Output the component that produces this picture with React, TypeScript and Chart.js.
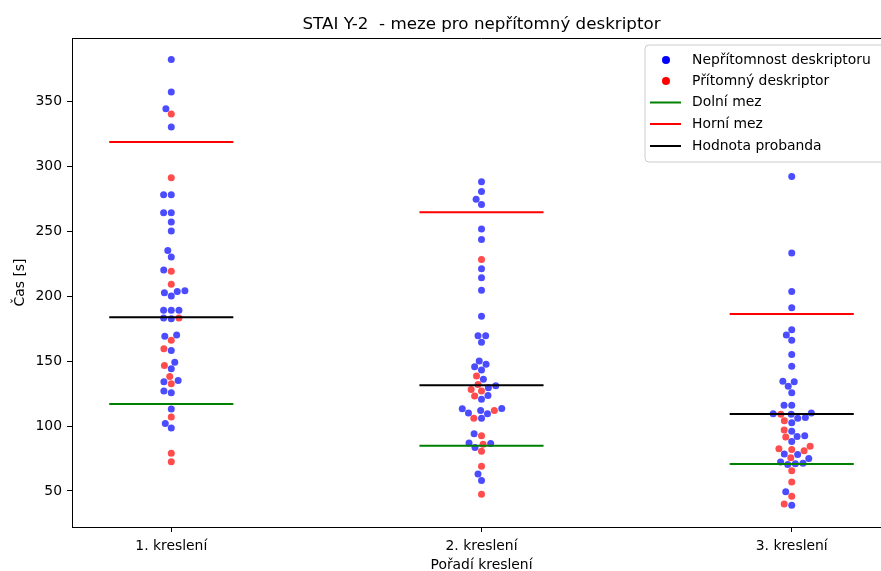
import React, { useEffect, useRef } from 'react';
import { Chart, registerables } from 'chart.js';

Chart.register(...registerables);

const categories = ['1. kreslení', '2. kreslení', '3. kreslení'];

// Nepřítomnost deskriptoru (blue)
const absent1 = [382, 357, 344, 330, 278, 278, 264, 264, 257, 250, 235, 230, 220, 204, 203.5, 202.5, 200, 189, 189, 189, 183, 182.5, 170, 169, 158, 149, 144, 135, 134, 127, 125.5, 113, 102, 98.5];
const absent2 = [288, 280.5, 274.5, 270.5, 251.5, 243.5, 221, 214, 204.5, 184.5, 169.5, 169.5, 164.5, 150, 147.5, 145.5, 143, 136, 131, 129.5, 123.5, 120.5, 113.5, 113.3, 112, 110, 109.5, 106, 94, 87, 86.5, 83.5, 63, 58];
const absent3 = [292, 233, 203.5, 191, 174, 170, 166, 155, 146, 134.5, 134, 130.5, 125.5, 116, 116, 110, 109.5, 109, 106.5, 106, 102.5, 96, 92.5, 92, 88, 78.5, 78, 75, 72.3, 71.3, 71, 70.3, 49.5, 39];

// Přítomný deskriptor (red)
const present1 = [340, 291, 219, 209, 183, 166, 159.5, 146.5, 138, 132.5, 107, 79, 72.5];
const present2 = [228, 138.5, 132, 128, 127, 123, 112, 106, 92.5, 86, 80.5, 69, 47.5];
const present3 = [109, 104, 97, 91.5, 84.5, 82.5, 82, 81, 75.5, 65.5, 57, 46, 40];

const absentValues = [absent1, absent2, absent3];
const presentValues = [present1, present2, present3];

const lowerBound = [116.9, 84.8, 70.8];
const upperBound = [318.5, 264.5, 186.1];
const subjectValue = [183.7, 131.4, 109.3];

const yTicks = [50, 100, 150, 200, 250, 300, 350];

const FONT = "'DejaVu Sans', sans-serif";
const BLUE = 'rgba(0,0,255,0.7)';
const RED = 'rgba(255,0,0,0.7)';

function segments(vals: number[]) {
  const out: { x: number; y: number | null }[] = [];
  vals.forEach((v, i) => {
    out.push({ x: i - 0.2, y: v }, { x: i + 0.2, y: v }, { x: i + 0.5, y: null });
  });
  return out;
}

function beeswarm(pys: number[], r: number): number[] {
  const n = pys.length;
  const order = pys.map((_, i) => i).sort((a, b) => pys[b] - pys[a] || a - b);
  const placed: { x: number; y: number }[] = [];
  const out = new Array(n).fill(0);
  const d2 = 4 * r * r;
  for (const idx of order) {
    const y = pys[idx];
    const neigh: { x: number; y: number }[] = [];
    for (let k = placed.length - 1; k >= 0; k--) {
      if (Math.abs(placed[k].y - y) < 2 * r) neigh.unshift(placed[k]);
      else break;
    }
    let chosen = 0;
    if (neigh.length) {
      const cands: number[] = [0];
      let leftFirst = true;
      for (const nb of neigh) {
        const dy = y - nb.y;
        const dx = Math.sqrt(Math.max(d2 - dy * dy, 0)) * 1.05;
        const cl = nb.x - dx;
        const cr = nb.x + dx;
        if (leftFirst) cands.push(cl, cr);
        else cands.push(cr, cl);
        leftFirst = !leftFirst;
      }
      const sorted = cands.map((c, i) => ({ c, i })).sort((a, b) => Math.abs(a.c) - Math.abs(b.c) || a.i - b.i);
      for (const { c } of sorted) {
        let ok = true;
        for (const nb of neigh) {
          const ddx = nb.x - c;
          const ddy = nb.y - y;
          if (ddx * ddx + ddy * ddy < d2 - 1e-6) { ok = false; break; }
        }
        if (ok) { chosen = c; break; }
      }
    }
    placed.push({ x: chosen, y });
    out[idx] = chosen;
  }
  return out;
}

const decorPlugin = {
  id: 'decor',
  afterDraw(chart: any) {
    const { ctx, chartArea } = chart;
    const { left, right, top, bottom } = chartArea;
    ctx.save();
    // frame (top and right spines)
    ctx.strokeStyle = '#000';
    ctx.lineWidth = 1;
    ctx.beginPath();
    ctx.moveTo(left, top + 0.5);
    ctx.lineTo(right, top + 0.5);
    ctx.moveTo(right - 0.5, top);
    ctx.lineTo(right - 0.5, bottom);
    ctx.stroke();

    // title
    ctx.fillStyle = '#000';
    ctx.font = `16.7px ${FONT}`;
    ctx.textAlign = 'center';
    ctx.textBaseline = 'alphabetic';
    ctx.fillText('STAI Y-2  - meze pro nepřítomný deskriptor', (left + right) / 2, 29);

    // axis labels
    ctx.font = `13.9px ${FONT}`;
    ctx.textBaseline = 'middle';
    ctx.fillText('Pořadí kreslení', (left + right) / 2, 565);
    ctx.save();
    ctx.translate(20, (top + bottom) / 2);
    ctx.rotate(-Math.PI / 2);
    ctx.fillText('Čas [s]', 0, 0);
    ctx.restore();

    // legend
    const lx = 645, ly = 45, lw = 250, lh = 117, rad = 4;
    ctx.beginPath();
    ctx.moveTo(lx + rad, ly);
    ctx.lineTo(lx + lw - rad, ly);
    ctx.quadraticCurveTo(lx + lw, ly, lx + lw, ly + rad);
    ctx.lineTo(lx + lw, ly + lh - rad);
    ctx.quadraticCurveTo(lx + lw, ly + lh, lx + lw - rad, ly + lh);
    ctx.lineTo(lx + rad, ly + lh);
    ctx.quadraticCurveTo(lx, ly + lh, lx, ly + lh - rad);
    ctx.lineTo(lx, ly + rad);
    ctx.quadraticCurveTo(lx, ly, lx + rad, ly);
    ctx.closePath();
    ctx.fillStyle = 'rgba(255,255,255,0.8)';
    ctx.fill();
    ctx.strokeStyle = '#cccccc';
    ctx.lineWidth = 1;
    ctx.stroke();

    const items = [
      { label: 'Nepřítomnost deskriptoru', kind: 'dot', color: '#0000ff' },
      { label: 'Přítomný deskriptor', kind: 'dot', color: '#ff0000' },
      { label: 'Dolní mez', kind: 'line', color: 'green' },
      { label: 'Horní mez', kind: 'line', color: 'red' },
      { label: 'Hodnota probanda', kind: 'line', color: 'black' },
    ];
    const rowsY = [60, 81, 102.5, 124, 146];
    items.forEach((it, i) => {
      const y = rowsY[i];
      if (it.kind === 'dot') {
        ctx.beginPath();
        ctx.arc(666, y, 4, 0, Math.PI * 2);
        ctx.fillStyle = it.color;
        ctx.fill();
      } else {
        ctx.beginPath();
        ctx.moveTo(650, y);
        ctx.lineTo(681, y);
        ctx.strokeStyle = it.color;
        ctx.lineWidth = 2;
        ctx.stroke();
      }
      ctx.fillStyle = '#000';
      ctx.textAlign = 'left';
      ctx.textBaseline = 'middle';
      ctx.font = `13.9px ${FONT}`;
      ctx.fillText(it.label, 692, y);
    });
    ctx.restore();
  },
};

export default function App() {
  const ref = useRef<HTMLCanvasElement | null>(null);

  useEffect(() => {
    if (!ref.current) return;
    const initialPoints = (vals: number[][]) =>
      vals.flatMap((arr, i) => arr.map((v) => ({ x: i, y: v })));

    const tickFont = { family: FONT, size: 13.9 };
    const chart = new Chart(ref.current, {
      type: 'scatter',
      data: {
        datasets: [
          { type: 'line', data: segments(subjectValue), borderColor: 'black', borderWidth: 2, pointRadius: 0, spanGaps: false, fill: false } as any,
          { type: 'line', data: segments(upperBound), borderColor: 'red', borderWidth: 2, pointRadius: 0, spanGaps: false, fill: false } as any,
          { type: 'line', data: segments(lowerBound), borderColor: 'green', borderWidth: 2, pointRadius: 0, spanGaps: false, fill: false } as any,
          { data: initialPoints(presentValues), backgroundColor: RED, pointRadius: 3.5, pointBorderWidth: 0, borderWidth: 0 },
          { data: initialPoints(absentValues), backgroundColor: BLUE, pointRadius: 3.5, pointBorderWidth: 0, borderWidth: 0 },
        ],
      },
      options: {
        responsive: false,
        animation: false,
        layout: { padding: { left: 0, top: 38, right: 9, bottom: 0 } },
        plugins: { legend: { display: false }, tooltip: { enabled: false } },
        scales: {
          x: {
            type: 'linear',
            min: -0.32,
            max: 2.32,
            afterBuildTicks: (s: any) => { s.ticks = categories.map((_, i) => ({ value: i })); },
            afterFit: (s: any) => { s.height = 44; },
            ticks: {
              callback: (v: any) => categories[Math.round(Number(v))],
              font: tickFont,
              color: '#000',
              padding: 6,
              maxRotation: 0,
              autoSkip: false,
            },
            grid: { display: true, drawOnChartArea: false, drawTicks: true, tickLength: 5, color: '#000', lineWidth: 1 },
            border: { display: true, color: '#000', width: 1 },
          },
          y: {
            min: 22.3,
            max: 398.5,
            afterBuildTicks: (s: any) => { s.ticks = yTicks.map((v) => ({ value: v })); },
            afterFit: (s: any) => { s.width = 72; },
            ticks: { font: tickFont, color: '#000', padding: 5 },
            grid: { display: true, drawOnChartArea: false, drawTicks: true, tickLength: 5, color: '#000', lineWidth: 1 },
            border: { display: true, color: '#000', width: 1 },
          },
        },
      } as any,
      plugins: [decorPlugin],
    });

    // compute swarm offsets in pixel space, then update data
    const xs = chart.scales.x;
    const ys = chart.scales.y;
    const pxPerUnit = xs.getPixelForValue(1) - xs.getPixelForValue(0);
    const r = 3.65;
    const newAbsent: { x: number; y: number }[] = [];
    const newPresent: { x: number; y: number }[] = [];
    categories.forEach((_, i) => {
      const all = [
        ...absentValues[i].map((v) => ({ v, hue: 0 })),
        ...presentValues[i].map((v) => ({ v, hue: 1 })),
      ];
      const offs = beeswarm(all.map((p) => ys.getPixelForValue(p.v)), r);
      all.forEach((p, k) => {
        const pt = { x: i + offs[k] / pxPerUnit, y: p.v };
        if (p.hue === 0) newAbsent.push(pt);
        else newPresent.push(pt);
      });
    });
    chart.data.datasets[3].data = newPresent as any;
    chart.data.datasets[4].data = newAbsent as any;
    chart.update('none');

    return () => chart.destroy();
  }, []);

  return (
    <div style={{ position: 'fixed', left: 0, top: 0, width: 881, height: 571, overflow: 'hidden', background: '#fff' }}>
      <canvas ref={ref} width={900} height={571} style={{ width: 900, height: 571, display: 'block' }} />
    </div>
  );
}
